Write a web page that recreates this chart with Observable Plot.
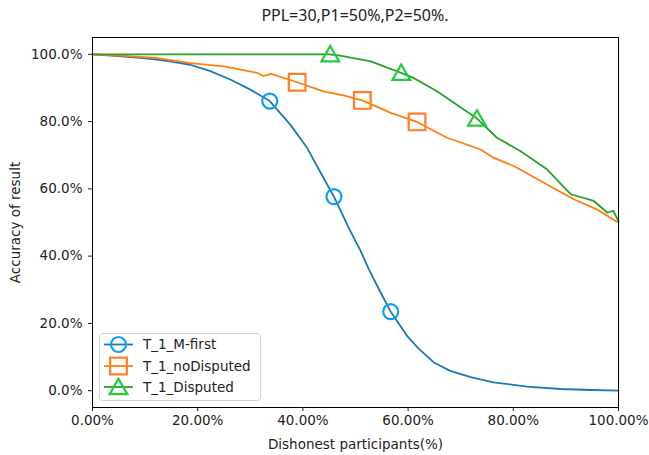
<!DOCTYPE html>
<html>
<head>
<meta charset="utf-8">
<script src="https://cdn.jsdelivr.net/npm/d3@7"></script>
<script src="https://cdn.jsdelivr.net/npm/@observablehq/plot@0.6"></script>
<style>
  html, body { margin: 0; padding: 0; background: #fff; }
  #wrap { position: relative; width: 649px; height: 455px; font-family: "DejaVu Sans", sans-serif; }
  #title { position: absolute; left: 0; width: 710px; top: 4px; text-align: center; font-family: "Noto Sans", sans-serif; font-size: 16px; color: #222; }
  #legend { position: absolute; left: 99px; top: 333px; }
</style>
</head>
<body>
<div id="wrap">
  <div id="chart"></div>
  <div id="title">PPL=30,P1=50%,P2=50%.</div>
  <div id="legend"></div>
</div>
<script>
// ---- data (x = share of dishonest participants, y = accuracy) ----
const seriesNames = ["T_1_M-first", "T_1_noDisputed", "T_1_Disputed"];

const mFirstX = [0, 0.05, 0.10, 0.123, 0.15, 0.186, 0.224, 0.262, 0.30, 0.337, 0.376, 0.408, 0.439, 0.459, 0.49, 0.51, 0.525, 0.545, 0.567, 0.598, 0.62, 0.649, 0.68, 0.719, 0.762, 0.826, 0.89, 0.95, 1.0];
const mFirstY = [1.0, 0.995, 0.988, 0.984, 0.978, 0.969, 0.950, 0.925, 0.895, 0.861, 0.791, 0.722, 0.633, 0.577, 0.475, 0.415, 0.362, 0.300, 0.235, 0.163, 0.125, 0.084, 0.059, 0.040, 0.025, 0.012, 0.005, 0.002, 0.0];

const noDispX = [0, 0.05, 0.123, 0.186, 0.25, 0.313, 0.325, 0.34, 0.389, 0.42, 0.439, 0.477, 0.513, 0.567, 0.617, 0.674, 0.738, 0.763, 0.801, 0.864, 0.915, 0.959, 1.0];
const noDispY = [1.0, 0.996, 0.989, 0.974, 0.964, 0.945, 0.935, 0.942, 0.917, 0.900, 0.890, 0.878, 0.863, 0.826, 0.799, 0.752, 0.717, 0.692, 0.668, 0.613, 0.569, 0.539, 0.499];

const dispX = [0, 0.30, 0.45, 0.471, 0.529, 0.587, 0.61, 0.655, 0.731, 0.769, 0.814, 0.864, 0.909, 0.953, 0.979, 0.99, 1.0];
const dispY = [1.0, 1.0, 1.0, 0.996, 0.979, 0.945, 0.930, 0.890, 0.809, 0.752, 0.712, 0.658, 0.584, 0.564, 0.529, 0.535, 0.504];

// marker positions (markevery points)
const mFirstMarkX = [0.337, 0.459, 0.567];
const mFirstMarkY = [0.861, 0.577, 0.235];
const noDispMarkX = [0.389, 0.513, 0.617];
const noDispMarkY = [0.917, 0.863, 0.799];
const dispMarkX = [0.452, 0.587, 0.731];
const dispMarkY = [1.0, 0.945, 0.809];

const xTicks = [0, 0.2, 0.4, 0.6, 0.8, 1.0];
const yTicks = [0, 0.2, 0.4, 0.6, 0.8, 1.0];

// ---- styles ----
const lineColors = ["#1f77b4", "#ff7f0e", "#2ca02c"];
const markColors = ["#0aa0ee", "#ff7f27", "#22cc3c"];
const symbols = ["circle", "square", "triangle"];
const markR = [7.5, 9.4, 6.6];

const toRows = (xs, ys) => xs.map((x, i) => ({x, y: ys[i]}));
const lines = [toRows(mFirstX, mFirstY), toRows(noDispX, noDispY), toRows(dispX, dispY)];
const marks = [toRows(mFirstMarkX, mFirstMarkY), toRows(noDispMarkX, noDispMarkY), toRows(dispMarkX, dispMarkY)];

const plot = Plot.plot({
  width: 649,
  height: 455,
  marginLeft: 92,
  marginRight: 31,
  marginTop: 37,
  marginBottom: 48,
  style: {fontFamily: "DejaVu Sans, sans-serif", fontSize: "13px", color: "#222", background: "#fff"},
  x: {domain: [0, 1]},
  y: {domain: [-0.05, 1.05]},
  marks: [
    ...lines.map((d, i) => Plot.line(d, {x: "x", y: "y", stroke: lineColors[i], strokeWidth: 1.8})),
    ...marks.map((d, i) => Plot.dot(d, {x: "x", y: "y", symbol: () => symbols[i], r: markR[i], stroke: markColors[i], strokeWidth: 2.2, fill: "none", dy: i === 2 ? 2 : 0})),
    Plot.frame({stroke: "#000", strokeWidth: 1}),
    Plot.axisX({ticks: xTicks, tickFormat: d3.format(".2%"), tickSize: 4, tickPadding: 4, fontSize: 13.5,
      label: "Dishonest participants(%)", labelAnchor: "center", labelOffset: 41, labelArrow: "none"}),
    Plot.axisY({ticks: yTicks, tickFormat: d3.format(".1%"), tickSize: 4, tickPadding: 6, fontSize: 13.5,
      label: "Accuracy of result", labelAnchor: "center", labelOffset: 82, labelArrow: "none"})
  ]
});
document.getElementById("chart").appendChild(plot);

// ---- legend ----
const lw = 161, lh = 67, rowY = [11.5, 33, 54];
const leg = d3.select("#legend").append("svg").attr("width", lw + 2).attr("height", lh + 2);
leg.append("rect").attr("x", 0.5).attr("y", 0.5).attr("width", lw).attr("height", lh).attr("rx", 3)
  .attr("fill", "rgba(255,255,255,0.8)").attr("stroke", "#d0d0d0");
seriesNames.forEach((name, i) => {
  const g = leg.append("g").attr("transform", `translate(0,${rowY[i]})`);
  g.append("line").attr("x1", 5).attr("x2", 34).attr("y1", 0).attr("y2", 0).attr("stroke", lineColors[i]).attr("stroke-width", 1.8);
  const sym = [d3.symbolCircle, d3.symbolSquare, d3.symbolTriangle][i];
  g.append("path").attr("d", d3.symbol(sym, Math.PI * markR[i] * markR[i])())
    .attr("transform", `translate(19.5,${i === 2 ? 2 : 0})`).attr("fill", "none").attr("stroke", markColors[i]).attr("stroke-width", 2.2);
  g.append("text").attr("x", 44).attr("y", 0).attr("dy", "0.35em").attr("font-size", 13.5)
    .attr("font-family", "DejaVu Sans, sans-serif").attr("fill", "#222").text(name);
});
</script>
</body>
</html>
